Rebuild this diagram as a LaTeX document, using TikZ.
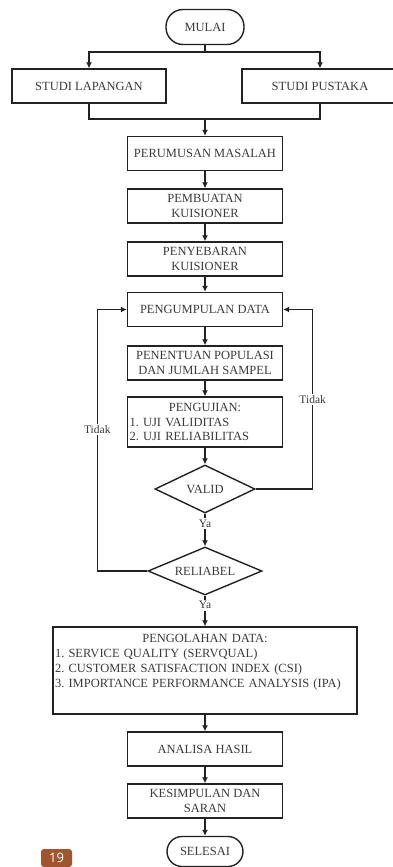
\documentclass[tikz,border=0pt]{standalone}
\usepackage{fontspec}
\setmainfont{Liberation Serif}
\newfontfamily\badgefont{Open Sans}
\usetikzlibrary{shapes.geometric,arrows.meta}
\definecolor{linegray}{HTML}{222222}
\definecolor{textgray}{HTML}{3A3A3A}
\definecolor{badgebrown}{HTML}{A0552F}
\frenchspacing

\begin{document}
\begin{tikzpicture}[x=1pt, y=-1pt, node distance=53pt, line width=1.4pt,
  box/.style = {draw=linegray, rectangle, minimum width=155pt, minimum height=34pt, align=center, inner sep=2pt, text=textgray, font=\fontsize{12.5}{14.5}\selectfont},
  term/.style = {draw=linegray, rectangle, rounded corners=17pt, minimum width=78pt, minimum height=35pt, text=textgray, font=\fontsize{12.5}{14.5}\selectfont},
  decision/.style = {draw=linegray, diamond, shape aspect=2.4, inner sep=0pt, minimum height=48pt, text=textgray, font=\fontsize{12.5}{14.5}\selectfont},
  lbl/.style = {fill=white, inner sep=1.5pt, text=textgray, font=\fontsize{11.5}{13}\selectfont},
  conn/.style = {draw=linegray},
  arr/.style = {draw=linegray, -{Latex[length=6pt,width=6pt]}}]
\useasboundingbox (0,0) rectangle (393,867);
\clip (0,0) rectangle (393,867);

\node[term] (mulai) at (205,27) {MULAI};
\node[box, minimum width=154pt] (lap) at (89,86) {STUDI LAPANGAN};
\node[box, minimum width=156pt] (pus) at (320,86) {STUDI PUSTAKA};
\node[box] (perumusan) at (205,153.5) {PERUMUSAN MASALAH};
\node[box, node distance=52.5pt] (pembuatan) [below of=perumusan] {PEMBUATAN\\KUISIONER};
\node[box] (penyebaran) [below of=pembuatan] {PENYEBARAN\\KUISIONER};
\node[box, node distance=50.5pt] (pengumpulan) [below of=penyebaran] {PENGUMPULAN DATA};
\node[box, node distance=53.5pt] (penentuan) [below of=pengumpulan] {PENENTUAN POPULASI\\DAN JUMLAH SAMPEL};
\node[box, node distance=59pt, minimum height=50pt, text width=151pt, align=left] (pengujian) [below of=penentuan]
  {\centering PENGUJIAN:\par\raggedright 1. UJI VALIDITAS\par 2. UJI RELIABILITAS};
\node[decision, node distance=67pt, minimum width=100pt] (valid) [below of=pengujian] {VALID};
\node[decision, node distance=82pt, minimum width=114pt] (reliabel) [below of=valid] {RELIABEL};
\node[box, node distance=99.5pt, minimum width=304pt, minimum height=87pt, text width=300pt, align=left, font=\fontsize{12.5}{15}\selectfont] (pengolahan) [below of=reliabel]
  {\centering PENGOLAHAN DATA:\par\raggedright 1. SERVICE QUALITY (SERVQUAL)\par 2. CUSTOMER SATISFACTION INDEX (CSI)\par 3. IMPORTANCE PERFORMANCE ANALYSIS (IPA)\par\vspace{16pt}};
\node[box, node distance=78.5pt] (analisa) [below of=pengolahan] {ANALISA HASIL};
\node[box, node distance=52pt] (kesimpulan) [below of=analisa] {KESIMPULAN DAN\\SARAN};
\node[term, node distance=50.5pt, minimum width=76pt, minimum height=30pt, rounded corners=15pt] (selesai) [below of=kesimpulan] {SELESAI};

\node[fill=badgebrown, rounded corners=3pt, minimum width=31pt, minimum height=18pt, inner sep=0pt, text=white, font=\badgefont\fontsize{13}{13}\selectfont] (halaman) at (56.5,858) {19};

\coordinate (split) at (205,52);
\coordinate (join) at (205,119);

\draw[conn] (mulai) -- (split);
\draw[arr] (split) -| (lap);
\draw[arr] (split) -| (pus);
\draw[conn] (lap.south) |- (join) -| (pus.south);
\draw[arr] (join) -- (perumusan);
\draw[arr] (perumusan) -- (pembuatan);
\draw[arr] (pembuatan) -- (penyebaran);
\draw[arr] (penyebaran) -- (pengumpulan);
\draw[arr] (pengumpulan) -- (penentuan);
\draw[arr] (penentuan) -- (pengujian);
\draw[arr] (pengujian) -- (valid);
\draw[arr] (valid) -- node[lbl, pos=0.3] {Ya} (reliabel);
\draw[arr] (reliabel) -- node[lbl, pos=0.31] {Ya} (pengolahan);
\draw[arr] (valid.east) -- ++(57,0) |- node[lbl, pos=0.25] {Tidak} (pengumpulan.east);
\draw[arr] (reliabel.west) -- ++(-50,0) |- node[lbl, pos=0.27] {Tidak} (pengumpulan.west);
\draw[arr] (pengolahan) -- (analisa);
\draw[arr] (analisa) -- (kesimpulan);
\draw[arr] (kesimpulan) -- (selesai);
\end{tikzpicture}
\end{document}
